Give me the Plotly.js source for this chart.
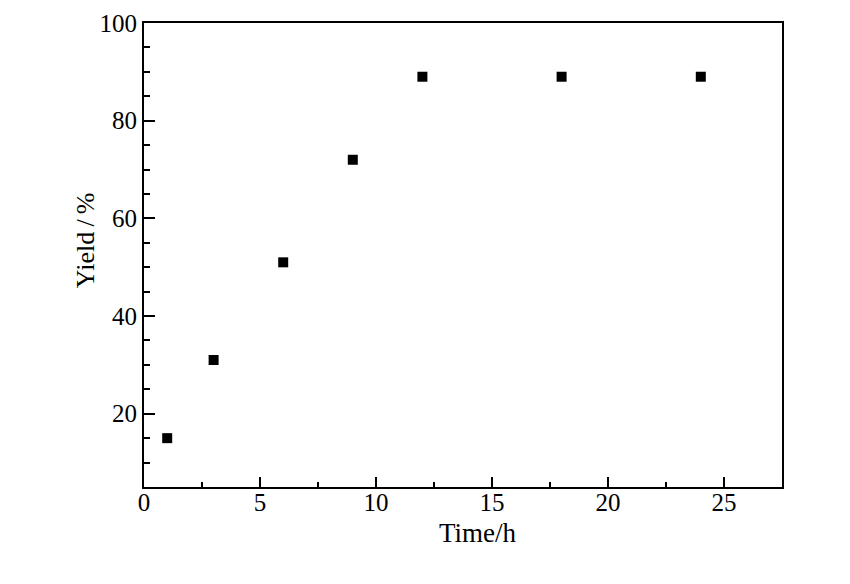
<!DOCTYPE html>
<html>
<head>
<meta charset="utf-8">
<script src="https://cdn.plot.ly/plotly-3.0.1.min.js"></script>
<style>html,body{margin:0;padding:0;background:#fff;}#chart{width:850px;height:584px;}</style>
</head>
<body>
<div id="chart"></div>
<script>
const timeH = [1, 3, 6, 9, 12, 18, 24];
const yieldPct = [15, 31, 51, 72, 89, 89, 89];
const xTitle = 'Time/h';
const yTitle = 'Yield\u2009/\u2009%';

const fam = 'Liberation Serif, Times New Roman, Times, serif';
const tickFont = {family: fam, size: 25, color: '#000'};
const titleFont = {family: fam, size: 27, color: '#000'};

const trace = {
  x: timeH, y: yieldPct, type: 'scatter', mode: 'markers',
  marker: {symbol: 'square', size: 10, color: '#000'},
  showlegend: false, hoverinfo: 'skip'
};

const layout = {
  width: 850, height: 584,
  margin: {l: 144, r: 68, t: 23, b: 97},
  paper_bgcolor: '#fff', plot_bgcolor: '#fff',
  font: tickFont,
  xaxis: {
    range: [0, 27.5], tickmode: 'linear', tick0: 0, dtick: 5,
    ticks: 'inside', ticklen: 10, tickwidth: 2, tickcolor: '#000',
    minor: {ticks: 'inside', dtick: 2.5, ticklen: 5, tickwidth: 2, tickcolor: '#000', showgrid: false},
    showline: true, linewidth: 2, linecolor: '#000', mirror: true,
    showgrid: false, zeroline: false, tickfont: tickFont,
    ticklabelstandoff: -8
  },
  yaxis: {
    range: [5, 100], tickmode: 'linear', tick0: 0, dtick: 20,
    ticks: 'inside', ticklen: 11, tickwidth: 2, tickcolor: '#000',
    minor: {ticks: 'inside', dtick: 5, ticklen: 6, tickwidth: 2, tickcolor: '#000', showgrid: false},
    showline: true, linewidth: 2, linecolor: '#000', mirror: true,
    showgrid: false, zeroline: false, tickfont: tickFont,
    ticklabelstandoff: 0
  },
  annotations: [
    {text: xTitle, xref: 'paper', yref: 'paper', x: 0.523, y: -0.1, 
     xanchor: 'center', yanchor: 'middle', showarrow: false, font: titleFont},
    {text: yTitle, xref: 'paper', yref: 'paper', x: -0.0925, y: 0.532, textangle: -90,
     xanchor: 'center', yanchor: 'middle', showarrow: false, font: {family: fam, size: 26, color: '#000'}}
  ]
};

Plotly.newPlot('chart', [trace], layout, {displayModeBar: false, staticPlot: true});
</script>
</body>
</html>
